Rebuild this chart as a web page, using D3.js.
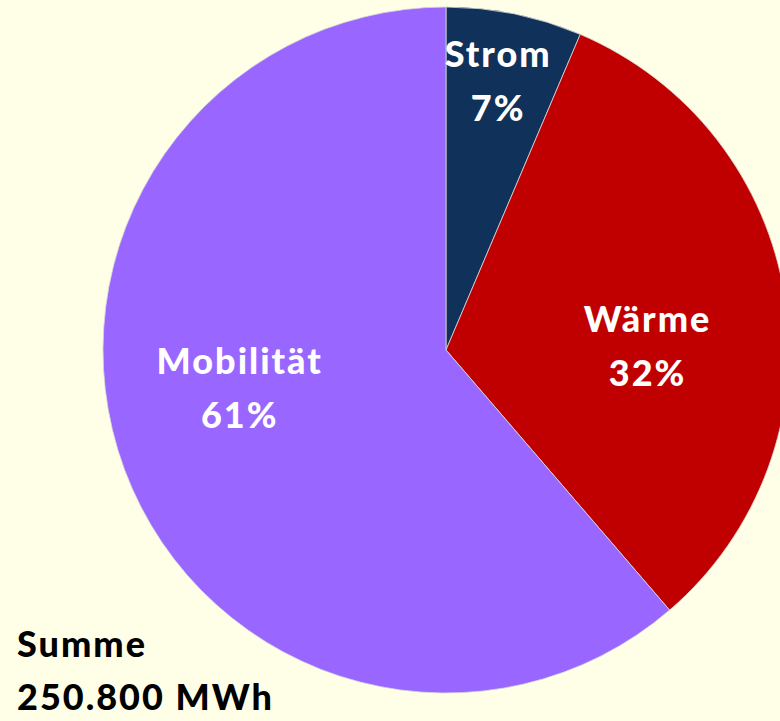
<!DOCTYPE html>
<html>
<head>
<meta charset="utf-8">
<script src="https://cdn.jsdelivr.net/npm/d3@7"></script>
<style>
  body { margin: 0; background: #FFFFE8; }
  svg { display: block; }
  text { font-family: Lato, "Open Sans", sans-serif; font-weight: 900; letter-spacing: 2px; }
</style>
</head>
<body>
<script>
// shares (percent of total energy demand)
var categories = ["Strom", "Wärme", "Mobilität"];
var shares = [6.4, 32.3, 61.3];
var shareLabels = ["7%", "32%", "61%"];
var colors = ["#10315A", "#C00000", "#9966FF"];
var totalLabel = ["Summe", "250.800 MWh"];

var width = 780, height = 721;
var cx = 446, cy = 350, radius = 343;

var svg = d3.select("body").append("svg")
  .attr("width", width)
  .attr("height", height);

svg.append("rect")
  .attr("width", width)
  .attr("height", height)
  .attr("fill", "#FFFFE8");

var data = categories.map(function(c, i) {
  return {name: c, value: shares[i], label: shareLabels[i], color: colors[i]};
});

var pie = d3.pie().sort(null).value(function(d) { return d.value; });
var arc = d3.arc().innerRadius(0).outerRadius(radius);

var g = svg.append("g").attr("transform", "translate(" + cx + "," + cy + ")");

var arcs = pie(data);

g.selectAll("path")
  .data(arcs)
  .enter().append("path")
  .attr("d", arc)
  .attr("fill", function(d) { return d.data.color; })
  .attr("stroke", "#d8d8d8")
  .attr("stroke-width", 0.8);

// label placement: distance from centre along the slice middle, plus a vertical nudge
var labelRadius = [261, 204, 220];
var labelNudge = [0, 40, -25];

var labels = g.selectAll("text.lbl")
  .data(arcs)
  .enter().append("text")
  .attr("class", "lbl")
  .attr("text-anchor", "middle")
  .attr("fill", "#fff")
  .attr("font-size", 36)
  .attr("transform", function(d, i) {
    var a = (d.startAngle + d.endAngle) / 2;
    var r = labelRadius[i];
    return "translate(" + (Math.sin(a) * r) + "," + (-Math.cos(a) * r + labelNudge[i]) + ")";
  });

labels.append("tspan")
  .attr("x", 0)
  .attr("y", -27)
  .text(function(d) { return d.data.name; });

labels.append("tspan")
  .attr("x", 0)
  .attr("y", 27)
  .text(function(d) { return d.data.label; });

svg.append("g").selectAll("text")
  .data(totalLabel)
  .enter().append("text")
  .attr("x", 17)
  .attr("y", function(d, i) { return 657 + i * 53; })
  .attr("fill", "#000")
  .attr("font-size", 36)
  .text(function(d) { return d; });
</script>
</body>
</html>
